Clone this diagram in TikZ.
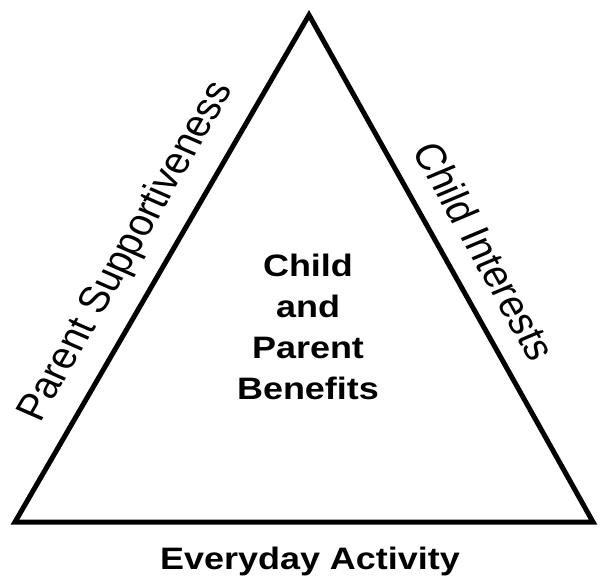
\documentclass[tikz,border=0pt]{standalone}
\usepackage{fontspec}
\setmainfont{Liberation Sans}
\begin{document}
\begin{tikzpicture}[x=1pt,y=-1pt,
  edge/.style={draw=black,line width=5pt,line join=miter},
  boldtxt/.style={font=\fontsize{31}{41}\selectfont\bfseries,align=center,inner sep=0pt,xscale=1.16},
  sidetxt/.style={font=\fontsize{37}{40}\selectfont,inner sep=0pt,xscale=1.15}]
\useasboundingbox (0,0) rectangle (600,581);
\coordinate (apex) at (309,15);
\coordinate (bl) at (15,522);
\coordinate (br) at (593,522);
\draw[edge] (apex) -- (bl) -- (br) -- cycle;
\node[boldtxt] (center) at (308,327) {Child\\and\\Parent\\Benefits};
\node[boldtxt,anchor=base] (bottom) at (310,569) {Everyday Activity};
\node[sidetxt,rotate=63.3] (left) at (127,252) {Parent Supportiveness};
\node[sidetxt,rotate=-64.1] (right) at (485,251) {Child Interests};
\end{tikzpicture}
\end{document}
